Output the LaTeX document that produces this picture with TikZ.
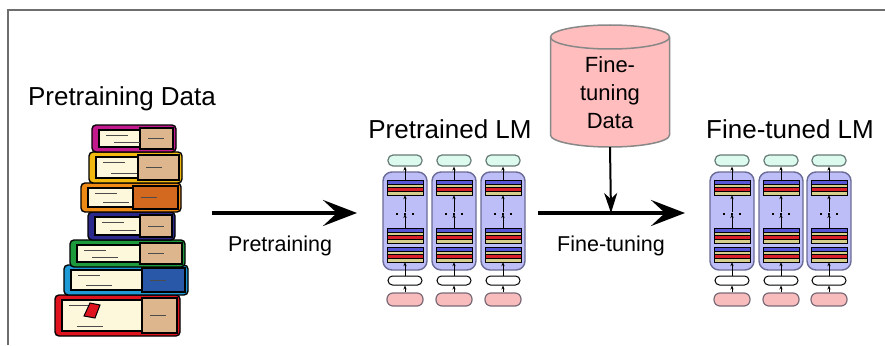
\documentclass[tikz,border=0pt]{standalone}
\usepackage{fontspec}
\setmainfont{Liberation Sans}
\usetikzlibrary{arrows.meta, positioning}
\tikzset{>=stealth}

\definecolor{framegray}{HTML}{6E6E6E}
\definecolor{boxfill}{HTML}{BDBDF7}
\definecolor{boxedge}{HTML}{6A6A96}
\definecolor{outfill}{HTML}{DCFAEE}
\definecolor{outedge}{HTML}{667A76}
\definecolor{tokfill}{HTML}{F8BCBC}
\definecolor{tokedge}{HTML}{7A6A78}
\definecolor{stripeblue}{HTML}{5656D6}
\definecolor{stripetan}{HTML}{D6CE8C}
\definecolor{stripered}{HTML}{D8202A}
\definecolor{datafill}{HTML}{FFBDBD}
\definecolor{dataedge}{HTML}{888888}
\definecolor{bookpage}{HTML}{FDF8DC}
\definecolor{booktan}{HTML}{DDB68E}
\definecolor{bookred}{HTML}{E0141E}
\definecolor{bookblue}{HTML}{1E9AD6}
\definecolor{bookdblue}{HTML}{2A58A8}
\definecolor{bookgreen}{HTML}{1D9A3B}
\definecolor{booknavy}{HTML}{2B2A8C}
\definecolor{bookorange}{HTML}{EF8A14}
\definecolor{bookdorange}{HTML}{D2691E}
\definecolor{bookyellow}{HTML}{F2B90F}
\definecolor{bookmagenta}{HTML}{C21A8C}

\tikzset{
  frameline/.style={draw=framegray, line width=2pt},
  title/.style={font=\fontsize{26}{30}\selectfont},
  steplabel/.style={font=\fontsize{21.5}{26}\selectfont},
  bigarrow/.style={line width=4pt, -{Stealth[length=34pt,width=26pt,inset=14pt]}},
  downarrow/.style={line width=2pt, -{Stealth[length=20pt,width=13pt,inset=6pt]}},
  smallarrow/.style={line width=0.8pt, -{Stealth[length=4pt,width=3.2pt]}},
  lmbox/.style={draw=boxedge, fill=boxfill, line width=1.4pt, rounded corners=9pt,
    minimum width=44pt, minimum height=98pt, inner sep=0pt},
  outpill/.style={draw=outedge, fill=outfill, line width=1.2pt, rounded corners=5pt,
    minimum width=34pt, minimum height=11pt, inner sep=0pt},
  embpill/.style={draw=black, fill=white, line width=1pt, rounded corners=4.5pt,
    minimum width=34pt, minimum height=9pt, inner sep=0pt},
  tokpill/.style={draw=tokedge, fill=tokfill, line width=1.2pt, rounded corners=6pt,
    minimum width=36pt, minimum height=13pt, inner sep=0pt},
  stackbox/.style={minimum width=36pt, minimum height=15pt, inner sep=0pt},
  stripe/.style={draw=black, line width=0.5pt},
  datadb/.style={draw=dataedge, fill=datafill, line width=1.5pt},
  bookline/.style={draw=black, line width=1.4pt},
  pageline/.style={draw=black!70, line width=0.6pt}
}

% one layer stack: name, x, top y
\newcommand{\lmstack}[3]{%
  \foreach \c [count=\i from 0] in {stripeblue,stripetan,stripered,stripetan}
    \draw[stripe, fill=\c] (#2-18,#3+\i*3.75) rectangle ++(36,3.75);
  \node[stackbox] (#1) at (#2,#3+7.5) {};
}

% one transformer column: name, x
\newcommand{\lmcol}[2]{%
  \node[outpill] (#1-out) at (#2,160.5) {};
  \node[lmbox] (#1-box) at (#2,221) {};
  \node[embpill] (#1-emb) at (#2,280.5) {};
  \node[tokpill] (#1-tok) at (#2,299.5) {};
  \lmstack{#1-s3}{#2}{180}
  \lmstack{#1-s2}{#2}{228}
  \lmstack{#1-s1}{#2}{247}
  \coordinate (#1-dots) at (#2,214);
  \foreach \dx in {-8,0,8}
    \fill (#2+\dx-1.3,212.7) rectangle ++(2.6,2.6);
  \draw[smallarrow] (#1-tok) -- (#1-emb);
  \draw[smallarrow] (#1-emb) -- (#1-s1);
  \draw[smallarrow] (#1-s2) -- (#1-dots);
  \draw[smallarrow] ([yshift=2pt]#1-dots) -- (#1-s3);
  \draw[smallarrow] (#1-s3.north) -- (#1-out);
}

\begin{document}
\begin{tikzpicture}[x=1pt, y=-1pt]
\useasboundingbox (0,0) rectangle (885,345);
\draw[frameline] (8,345) -- (8,10) -- (885,10);

% data
\node[title] (datatitle) at (122,99) {Pretraining Data};
\foreach \xa/\ya/\xb/\yb/\xs/\cov/\side in {
  55/295/180/336/142/bookred/booktan,
  64/265/188/295/142/bookblue/bookdblue,
  70/240/185/267/140/bookgreen/booktan,
  88/212/175/240/140/booknavy/booktan,
  81/183/181/212/133/bookorange/bookdorange,
  89/152/182/183/138/bookyellow/booktan,
  92/125/176/152/140/bookmagenta/booktan} {
  \draw[bookline, fill=\cov, rounded corners=4pt] (\xa,\ya) rectangle (\xb,\yb);
  \draw[bookline, fill=bookpage] (\xa+7,\ya+5) rectangle (\xs,\yb-5);
  \draw[bookline, fill=\side] (\xs,\ya+3) rectangle (\xb-3,\yb-3);
  \draw[pageline] (\xa+14,\ya+10) -- ++(22,0);
  \draw[pageline] (\xa+22,\yb-10) -- ++(26,0);
  \draw[pageline] (\xs+8,\ya/2+\yb/2) -- ++(16,0);
}
\filldraw[bookline, fill=bookred, line width=1pt] (84,316) -- (90,303) -- (100,305) -- (95,318) -- cycle;

% pretraining
\coordinate (pre-start) at (212,213);
\coordinate (pre-end) at (357,213);
\draw[bigarrow] (pre-start) -- (pre-end);
\node[steplabel] (prelabel) at (280,246) {Pretraining};

\node[title] (pretitle) at (450,129) {Pretrained LM};
\lmcol{pa}{405}
\lmcol{pb}{454}
\lmcol{pc}{503}

% fine-tuning
\draw[datadb] (550.5,37) -- (550.5,135)
  arc[start angle=180, end angle=360, x radius=59.5pt, y radius=12pt]
  -- (669.5,37)
  arc[start angle=0, end angle=180, x radius=59.5pt, y radius=12pt] -- cycle;
\draw[datadb, fill=none] (550.5,37)
  arc[start angle=180, end angle=360, x radius=59.5pt, y radius=12pt];
\node[minimum width=119pt, minimum height=122pt, inner sep=0pt] (ftdata) at (610,86) {};
\node[align=center, font=\fontsize{22}{28}\selectfont] (ftdatatext) at (610,93) {Fine-\\tuning\\Data};
\coordinate (ft-start) at (538,213);
\coordinate (ft-end) at (685,213);
\coordinate (ft-join) at (611,213);
\draw[bigarrow] (ft-start) -- (ft-end);
\draw[downarrow] (ftdata.south) -- (ft-join);
\node[steplabel] (ftlabel) at (611,246) {Fine-tuning};

\node[title] (fttitle) at (790,129) {Fine-tuned LM};
\lmcol{fa}{732}
\lmcol{fb}{781}
\lmcol{fc}{829}
\end{tikzpicture}
\end{document}
